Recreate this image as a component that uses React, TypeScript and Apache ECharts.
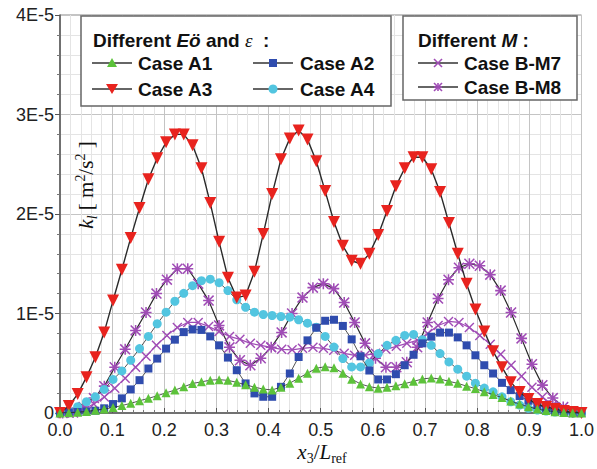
import React, { useEffect, useRef } from 'react';
import * as echarts from 'echarts';

// x positions (x3/Lref) of the A-case samples and the B-case samples
const xA = [0, 0.0169, 0.0339, 0.0508, 0.0678, 0.0847, 0.1017, 0.1186, 0.1356, 0.1525,
  0.1695, 0.1864, 0.2034, 0.2203, 0.2373, 0.2542, 0.2712, 0.2881, 0.3051, 0.322,
  0.339, 0.3559, 0.3729, 0.3898, 0.4068, 0.4237, 0.4407, 0.4576, 0.4746, 0.4915,
  0.5085, 0.5254, 0.5424, 0.5593, 0.5763, 0.5932, 0.6102, 0.6271, 0.6441, 0.661,
  0.678, 0.6949, 0.7119, 0.7288, 0.7458, 0.7627, 0.7797, 0.7966, 0.8136, 0.8305,
  0.8475, 0.8644, 0.8814, 0.8983, 0.9153, 0.9322, 0.9492, 0.9661, 0.9831, 1.0];
const xB = [0.005, 0.025, 0.045, 0.065, 0.085, 0.105, 0.125, 0.145, 0.165, 0.185,
  0.205, 0.225, 0.245, 0.265, 0.285, 0.305, 0.325, 0.345, 0.365, 0.385,
  0.405, 0.425, 0.445, 0.465, 0.485, 0.505, 0.525, 0.545, 0.565, 0.585,
  0.605, 0.625, 0.645, 0.665, 0.685, 0.705, 0.725, 0.745, 0.765, 0.785,
  0.805, 0.825, 0.845, 0.865, 0.885, 0.905, 0.925, 0.945, 0.965, 0.985];

// k_l values in units of 1E-5 m^2/s^2
const caseA1 = [0, 0.003, 0.008, 0.015, 0.027, 0.04, 0.055, 0.075, 0.097, 0.123,
  0.147, 0.173, 0.203, 0.23, 0.263, 0.297, 0.313, 0.33, 0.335, 0.328,
  0.308, 0.283, 0.26, 0.24, 0.232, 0.26, 0.3, 0.35, 0.4, 0.45,
  0.465, 0.455, 0.4, 0.34, 0.292, 0.265, 0.25, 0.26, 0.273, 0.295,
  0.318, 0.342, 0.352, 0.342, 0.318, 0.298, 0.27, 0.245, 0.213, 0.185,
  0.155, 0.12, 0.09, 0.063, 0.04, 0.025, 0.012, 0.005, 0, 0];
const caseA2 = [0, 0.005, 0.01, 0.015, 0.023, 0.047, 0.09, 0.147, 0.237, 0.33,
  0.447, 0.547, 0.647, 0.737, 0.813, 0.84, 0.835, 0.77, 0.68, 0.557,
  0.43, 0.297, 0.197, 0.163, 0.163, 0.263, 0.397, 0.563, 0.73, 0.857,
  0.927, 0.937, 0.875, 0.74, 0.57, 0.427, 0.337, 0.337, 0.39, 0.48,
  0.585, 0.7, 0.767, 0.808, 0.808, 0.76, 0.68, 0.58, 0.48, 0.397,
  0.303, 0.23, 0.17, 0.123, 0.08, 0.047, 0.02, 0.005, 0, 0];
const caseA3 = [0, 0.07, 0.19, 0.36, 0.56, 0.81, 1.13, 1.44, 1.76, 2.06,
  2.35, 2.56, 2.72, 2.8, 2.8, 2.69, 2.46, 2.11, 1.72, 1.36,
  1.16, 1.18, 1.42, 1.8, 2.2, 2.55, 2.76, 2.84, 2.75, 2.53,
  2.23, 1.92, 1.68, 1.53, 1.5, 1.6, 1.79, 2.03, 2.28, 2.46,
  2.57, 2.57, 2.45, 2.22, 1.91, 1.6, 1.3, 1.04, 0.82, 0.62,
  0.46, 0.31, 0.21, 0.14, 0.09, 0.06, 0.04, 0.02, 0.01, 0];
const caseA4 = [0, 0.02, 0.063, 0.113, 0.163, 0.237, 0.337, 0.423, 0.53, 0.647,
  0.77, 0.897, 1.013, 1.123, 1.203, 1.28, 1.33, 1.345, 1.31, 1.23,
  1.137, 1.063, 1.013, 0.99, 0.98, 0.97, 0.963, 0.937, 0.903, 0.863,
  0.77, 0.663, 0.547, 0.463, 0.463, 0.503, 0.597, 0.68, 0.73, 0.78,
  0.79, 0.737, 0.68, 0.597, 0.513, 0.44, 0.37, 0.3, 0.25, 0.213,
  0.163, 0.113, 0.08, 0.047, 0.03, 0.02, 0.01, 0.005, 0, 0];
const caseBM7 = [0, 0.01, 0.04, 0.09, 0.16, 0.25, 0.35, 0.46, 0.57, 0.68,
  0.78, 0.86, 0.91, 0.91, 0.87, 0.82, 0.77, 0.74, 0.7, 0.68,
  0.66, 0.64, 0.635, 0.65, 0.66, 0.65, 0.63, 0.6, 0.58, 0.58,
  0.6, 0.64, 0.67, 0.7, 0.73, 0.8, 0.88, 0.92, 0.91, 0.86,
  0.78, 0.69, 0.59, 0.48, 0.37, 0.26, 0.16, 0.08, 0.03, 0.005];
const caseBM8 = [0, 0.005, 0.06, 0.15, 0.27, 0.46, 0.64, 0.83, 1.01, 1.2,
  1.34, 1.45, 1.45, 1.3, 1.13, 0.88, 0.66, 0.53, 0.48, 0.55,
  0.66, 0.81, 1.0, 1.16, 1.26, 1.3, 1.25, 1.11, 0.91, 0.7,
  0.55, 0.46, 0.46, 0.51, 0.66, 0.91, 1.15, 1.34, 1.46, 1.5,
  1.48, 1.39, 1.23, 1.01, 0.75, 0.49, 0.28, 0.15, 0.06, 0.01];

const yTickLabels = ['0', '1E-5', '2E-5', '3E-5', '4E-5'];

const RED = '#e8231e';
const GREEN = '#5cc23a';
const BLUE = '#2f4cae';
const CYAN = '#52c5e0';
const PURPLE = '#a04cb6';
const LINE = '#2a2a2a';

const X_PATH = 'M0,1 L1,0 L5,4 L9,0 L10,1 L6,5 L10,9 L9,10 L5,6 L1,10 L0,9 L4,5 Z';
const AST_PATH = X_PATH + ' M4.3,0 L5.7,0 L5.7,4.3 L10,4.3 L10,5.7 L5.7,5.7 L5.7,10 L4.3,10 L4.3,5.7 L0,5.7 L0,4.3 L4.3,4.3 Z';

const SANS = 'Liberation Sans, Arial, sans-serif';
const SERIF = 'Liberation Serif, Times New Roman, serif';

function pairs(xs: number[], ys: number[]) {
  return xs.map((x, i) => [x, ys[i]]);
}

export default function App() {
  const ref = useRef<HTMLDivElement>(null);
  useEffect(() => {
    if (!ref.current) return;
    const chart = echarts.init(ref.current, undefined, { renderer: 'svg' });

    const lineS = (name: string, xs: number[], ys: number[], o: any) => ({
      name,
      type: 'line',
      data: pairs(xs, ys),
      symbol: o.symbol,
      symbolSize: o.size,
      symbolRotate: o.rotate || 0,
      showAllSymbol: true,
      itemStyle: { color: o.color },
      lineStyle: { color: o.line, width: o.lw || 1.2 },
      z: o.z,
      silent: true,
      emphasis: { disabled: true },
    });

    const b = { fontFamily: SANS, fontWeight: 'bold', fontSize: 19, fill: '#111' };
    const bi = { fontFamily: SANS, fontWeight: 'bold', fontStyle: 'italic', fontSize: 19, fill: '#111' };
    const g = { fontFamily: SERIF, fontStyle: 'italic', fontSize: 19, fill: '#111' };

    const sample = (x: number, y: number) => ({
      type: 'line',
      shape: { x1: x, y1: y, x2: x + 40, y2: y },
      style: { stroke: '#333', lineWidth: 1.5 },
      z: 102,
    });
    const label = (x: number, y: number, t: string) => ({
      type: 'text',
      x, y,
      style: { text: t, font: 'bold 19px ' + SANS, fill: '#111', textAlign: 'left', textVerticalAlign: 'middle' },
      z: 102,
    });
    const cross = (cx: number, cy: number, s: number, plus: boolean) => {
      const els: any[] = [
        { type: 'line', shape: { x1: cx - s, y1: cy - s, x2: cx + s, y2: cy + s }, style: { stroke: PURPLE, lineWidth: 1.6 }, z: 103 },
        { type: 'line', shape: { x1: cx - s, y1: cy + s, x2: cx + s, y2: cy - s }, style: { stroke: PURPLE, lineWidth: 1.6 }, z: 103 },
      ];
      if (plus) {
        els.push({ type: 'line', shape: { x1: cx - s, y1: cy, x2: cx + s, y2: cy }, style: { stroke: PURPLE, lineWidth: 1.6 }, z: 103 });
        els.push({ type: 'line', shape: { x1: cx, y1: cy - s, x2: cx, y2: cy + s }, style: { stroke: PURPLE, lineWidth: 1.6 }, z: 103 });
      }
      return els;
    };

    const r1 = 63, r2 = 89;
    const graphic: any[] = [
      { type: 'rect', shape: { x: 81, y: 16, width: 310, height: 90 }, style: { fill: '#fff', stroke: '#666', lineWidth: 1.5 }, z: 100 },
      { type: 'rect', shape: { x: 403, y: 16, width: 174, height: 84 }, style: { fill: '#fff', stroke: '#666', lineWidth: 1.5 }, z: 100 },
      {
        type: 'text', x: 93, y: 40, z: 102,
        style: {
          text: '{b|Different }{bi|Eö}{b| and }{g|ε}{b|  :}',
          rich: { b, bi, g },
          textVerticalAlign: 'middle',
        },
      },
      {
        type: 'text', x: 418, y: 40, z: 102,
        style: {
          text: '{b|Different }{bi|M}{b| :}',
          rich: { b, bi },
          textVerticalAlign: 'middle',
        },
      },
      sample(92, r1),
      { type: 'polygon', shape: { points: [[112, r1 - 5], [117, r1 + 4], [107, r1 + 4]] }, style: { fill: GREEN }, z: 103 },
      label(138, r1, 'Case A1'),
      sample(253, r1),
      { type: 'rect', shape: { x: 269, y: r1 - 4, width: 8, height: 8 }, style: { fill: BLUE }, z: 103 },
      label(300, r1, 'Case A2'),
      sample(92, r2),
      { type: 'polygon', shape: { points: [[106, r2 - 5], [118, r2 - 5], [112, r2 + 5]] }, style: { fill: RED }, z: 103 },
      label(138, r2, 'Case A3'),
      sample(253, r2),
      { type: 'circle', shape: { cx: 273, cy: r2, r: 4.5 }, style: { fill: CYAN }, z: 103 },
      label(300, r2, 'Case A4'),
      sample(418, r1),
      ...cross(438, r1, 4, false),
      label(464, r1, 'Case B-M7'),
      sample(418, 87),
      ...cross(438, 87, 4, true),
      label(464, 87, 'Case B-M8'),
      {
        type: 'text', x: 86, y: 185, rotation: Math.PI / 2, z: 50,
        style: {
          text: '{i|k}{sub|l}{n| [ m}{sup|2}{n|/s}{sup|2}{n| ]}',
          rich: {
            i: { fontFamily: SERIF, fontStyle: 'italic', fontSize: 21, lineHeight: 26, fill: '#111' },
            sub: { fontFamily: SERIF, fontStyle: 'italic', fontSize: 14, lineHeight: 14, verticalAlign: 'bottom', fill: '#111' },
            n: { fontFamily: SERIF, fontSize: 21, lineHeight: 26, fill: '#111' },
            sup: { fontFamily: SERIF, fontSize: 14, lineHeight: 14, verticalAlign: 'top', fill: '#111' },
          },
          textAlign: 'center',
          textVerticalAlign: 'middle',
        },
      },
      {
        type: 'text', x: 322, y: 452, z: 50,
        style: {
          text: '{i|x}{sub|3}{n|/}{i|L}{sub|ref}',
          rich: {
            i: { fontFamily: SERIF, fontStyle: 'italic', fontSize: 21, lineHeight: 26, fill: '#111' },
            sub: { fontFamily: SERIF, fontSize: 14, lineHeight: 14, verticalAlign: 'bottom', fill: '#111' },
            n: { fontFamily: SERIF, fontSize: 21, lineHeight: 26, fill: '#111' },
          },
          textAlign: 'center',
          textVerticalAlign: 'middle',
        },
      },
    ];

    chart.setOption({
      animation: false,
      backgroundColor: '#fff',
      grid: { left: 60, top: 15, width: 525, height: 398, show: true, borderColor: '#888', borderWidth: 1, backgroundColor: 'transparent' },
      xAxis: {
        type: 'value', min: 0, max: 1, interval: 0.1,
        axisLine: { show: true, lineStyle: { color: '#555', width: 1.5 } },
        axisTick: { show: true, inside: true, length: 5, lineStyle: { color: '#555' } },
        minorTick: { show: true, splitNumber: 5, length: 3, lineStyle: { color: '#777' } },
        splitLine: { show: true, lineStyle: { color: '#c4c4c4', width: 1 } },
        minorSplitLine: { show: true, lineStyle: { color: '#e4e4e4', width: 1 } },
        axisLabel: { formatter: (v: number) => v.toFixed(1), fontFamily: SANS, fontSize: 18, color: '#222', margin: 8 },
      },
      yAxis: {
        type: 'value', min: 0, max: 4, interval: 1,
        axisLine: { show: true, lineStyle: { color: '#555', width: 1.5 } },
        axisTick: { show: true, length: 5, lineStyle: { color: '#555' } },
        minorTick: { show: true, splitNumber: 5, length: 3, lineStyle: { color: '#777' } },
        splitLine: { show: true, lineStyle: { color: '#c4c4c4', width: 1 } },
        minorSplitLine: { show: true, lineStyle: { color: '#e4e4e4', width: 1 } },
        axisLabel: { formatter: (v: number) => yTickLabels[Math.round(v)], fontFamily: SANS, fontSize: 18, color: '#222', margin: 6 },
      },
      graphic,
      series: [
        lineS('Case B-M8', xB, caseBM8, { symbol: 'path://' + AST_PATH, size: 11, color: PURPLE, line: LINE, z: 2 }),
        lineS('Case B-M7', xB, caseBM7, { symbol: 'path://' + X_PATH, size: 10, color: PURPLE, line: PURPLE, z: 3 }),
        lineS('Case A4', xA, caseA4, { symbol: 'circle', size: 9, color: CYAN, line: LINE, lw: 0.8, z: 4 }),
        lineS('Case A2', xA, caseA2, { symbol: 'rect', size: 8, color: BLUE, line: LINE, lw: 0.8, z: 5 }),
        lineS('Case A3', xA, caseA3, { symbol: 'triangle', size: 12, rotate: 180, color: RED, line: LINE, lw: 1.4, z: 6 }),
        lineS('Case A1', xA, caseA1, { symbol: 'triangle', size: 9, color: GREEN, line: LINE, lw: 0.8, z: 7 }),
      ],
    });
    return () => chart.dispose();
  }, []);
  return <div ref={ref} style={{ position: 'fixed', left: 0, top: 0, width: 597, height: 469 }} />;
}
